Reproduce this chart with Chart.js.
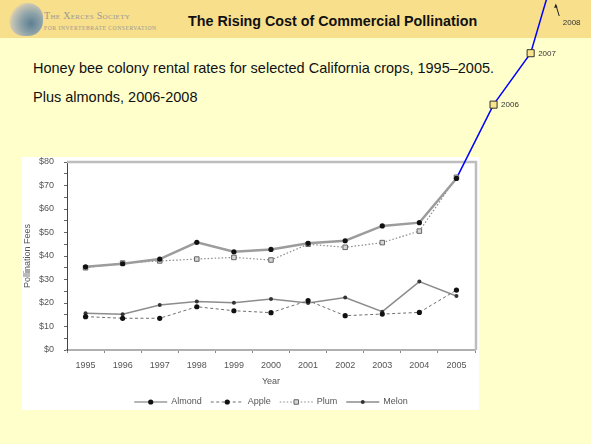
<!DOCTYPE html>
<html>
<head>
<meta charset="utf-8">
<script src="https://cdn.jsdelivr.net/npm/chart.js@4.4.1/dist/chart.umd.min.js"></script>
<style>
body{margin:0;background:#FFFFCC}
#page{position:relative;width:591px;height:444px;overflow:hidden;background:#FFFFCC;font-family:"Liberation Sans",Arial,sans-serif}
#band{position:absolute;left:0;top:0;width:591px;height:38px;background:#F7DF8C}
#logo{position:absolute;left:9px;top:3px;width:34px;height:33px;border-radius:45%;
  background:radial-gradient(circle at 65% 62%,#5d7f93 0,#8ea3a8 35%,#c9c6b4 65%,rgba(247,223,140,0) 75%)}
#soc{position:absolute;left:44px;top:10px;font-family:"Liberation Serif",serif;font-variant:small-caps;font-size:10px;color:#9a9a92;letter-spacing:.3px;white-space:nowrap}
#soc2{position:absolute;left:44px;top:25px;font-family:"Liberation Serif",serif;font-size:5.6px;color:#9a9a92;letter-spacing:.55px;white-space:nowrap}
#title{position:absolute;left:188px;top:13px;font-weight:bold;font-size:14.3px;color:#111;white-space:nowrap}
.sub{position:absolute;left:33px;font-size:14.5px;color:#111;white-space:nowrap}
#box{position:absolute;left:22px;top:157px;width:457px;height:253px;background:#fff}
#wrap{position:absolute;left:0;top:0;width:591px;height:444px}
</style>
</head>
<body>
<div id="page">
  <div id="band"></div>
  <div id="logo"></div>
  <div id="soc">The Xerces Society</div>
  <div id="soc2">FOR INVERTEBRATE CONSERVATION</div>
  <div id="title">The Rising Cost of Commercial Pollination</div>
  <div class="sub" style="top:60px">Honey bee colony rental rates for selected California crops, 1995–2005.</div>
  <div class="sub" style="top:89px">Plus almonds, 2006-2008</div>
  <div id="box"></div>
  <div id="wrap"><canvas id="c"></canvas></div>
</div>
<script>
// values
const years=[1995,1996,1997,1998,1999,2000,2001,2002,2003,2004,2005];
const almond=[35.4,36.7,38.7,45.8,41.8,42.8,45.4,46.5,52.8,54.2,73.0];
const apple=[14.2,13.5,13.5,18.4,16.7,15.9,21.0,14.6,15.3,16.0,25.5];
const plum=[35.0,37.0,37.9,38.7,39.4,38.3,45.0,43.7,45.7,50.6,73.5];
const melon=[15.6,15.2,19.1,20.6,20.1,21.7,20.0,22.3,16.3,29.1,23.0];
// almonds added later on the slide (off the chart's scale)
const extYears=[2005,2006,2007,2008];
const extAlmond=[73.0,104.4,126.3,180];
const yTicks=[0,10,20,30,40,50,60,70,80];

const xy=(xs,ys)=>xs.map((x,i)=>({x,y:ys[i]}));
const xTickVals=[];years.forEach(y=>{xTickVals.push(y-0.5,y)});xTickVals.push(years[years.length-1]+0.5);
const yTickVals=[];yTicks.forEach((v,i)=>{yTickVals.push(v);if(i<yTicks.length-1)yTickVals.push(v+5)});
const everywhere={left:-1e4,right:1e4,top:-1e4,bottom:1e4};

const decor={
  id:"decor",
  beforeDatasetsDraw(chart){
    const{ctx,chartArea:a}=chart;
    ctx.save();ctx.strokeStyle="#bdbdbd";ctx.lineWidth=2.5;
    ctx.beginPath();ctx.moveTo(a.left,a.top);ctx.lineTo(a.right+1,a.top);ctx.lineTo(a.right+1,a.bottom);ctx.stroke();
    ctx.restore();
  },
  afterDatasetsDraw(chart){
    // the added almond points lie outside the plot area, chart.js skips them there
    const m=chart.getDatasetMeta(4);
    m.data.forEach(p=>p.draw(chart.ctx,everywhere));
  },
  afterDraw(chart){
    const{ctx,chartArea:a,scales:{x}}=chart;
    ctx.save();
    // legend
    ctx.font="9px 'Liberation Sans', Arial";ctx.textBaseline="middle";
    const ds=chart.data.datasets.slice(0,4);
    const sw=33,g1=4,g2=9,ly=402;
    let tot=0;ds.forEach((d,i)=>{tot+=sw+g1+ctx.measureText(d.label).width+(i<3?g2:0)});
    let lx=(a.left+a.right)/2-tot/2;
    ds.forEach(d=>{
      ctx.save();ctx.strokeStyle=d.borderColor;ctx.lineWidth=Math.min(d.borderWidth,1.5);ctx.setLineDash(d.borderDash||[]);
      ctx.beginPath();ctx.moveTo(lx,ly);ctx.lineTo(lx+sw,ly);ctx.stroke();ctx.restore();
      ctx.fillStyle=d.pointBackgroundColor;ctx.strokeStyle=d.pointBorderColor;ctx.lineWidth=d.pointBorderWidth||0;
      Chart.helpers.drawPoint(ctx,{pointStyle:d.pointStyle,radius:d.pointRadius,rotation:0,borderWidth:d.pointBorderWidth||0},lx+sw/2,ly);
      lx+=sw+g1;ctx.fillStyle="#555";ctx.fillText(d.label,lx,ly);
      lx+=ctx.measureText(d.label).width+g2;
    });
    // year labels on the added almond points
    const m=chart.getDatasetMeta(4);
    ctx.font="8px 'Liberation Sans', Arial";ctx.fillStyle="#333";
    [1,2].forEach(i=>{const p=m.data[i];ctx.fillText(String(extYears[i]),p.x+7.5,p.y+0.5)});
    const x8=x.getPixelForValue(extYears[3]);
    ctx.fillText(String(extYears[3]),x8-5,22.5);
    ctx.strokeStyle="#222";ctx.fillStyle="#222";ctx.lineWidth=1;
    ctx.beginPath();ctx.moveTo(x8-8.5,16);ctx.lineTo(x8-11.5,6);ctx.stroke();
    ctx.beginPath();ctx.moveTo(x8-12,3.5);ctx.lineTo(x8-13.6,8);ctx.lineTo(x8-10.2,7.2);ctx.closePath();ctx.fill();
    ctx.restore();
  }
};

Chart.defaults.font.family="'Liberation Sans', Arial";
Chart.defaults.font.size=9;
Chart.defaults.color="#555";

new Chart(document.getElementById("c"),{
  type:"line",
  data:{datasets:[
    {label:"Almond",data:xy(years,almond),borderColor:"#9c9c9c",borderWidth:2.5,pointStyle:"circle",pointRadius:2.6,pointBackgroundColor:"#111",pointBorderColor:"#111",pointBorderWidth:0},
    {label:"Apple",data:xy(years,apple),borderColor:"#6e6e6e",borderWidth:1,borderDash:[3,2.5],pointStyle:"circle",pointRadius:2.6,pointBackgroundColor:"#111",pointBorderColor:"#111",pointBorderWidth:0},
    {label:"Plum",data:xy(years,plum),borderColor:"#8a8a8a",borderWidth:1.2,borderDash:[1.5,2],pointStyle:"rect",pointRadius:3.2,pointBackgroundColor:"#d6d6d6",pointBorderColor:"#666",pointBorderWidth:1},
    {label:"Melon",data:xy(years,melon),borderColor:"#8c8c8c",borderWidth:1.5,pointStyle:"circle",pointRadius:2,pointBackgroundColor:"#333",pointBorderColor:"#333",pointBorderWidth:0},
    {label:"Almond 2006-2008",data:xy(extYears,extAlmond),borderColor:"#0000FF",borderWidth:1.5,clip:false,pointStyle:"rect",pointRadius:[0,5,5,0],pointBackgroundColor:"#FAE48C",pointBorderColor:"#333",pointBorderWidth:1}
  ]},
  options:{
    responsive:true,maintainAspectRatio:false,animation:false,
    layout:{padding:{left:20,right:116,top:162,bottom:54}},
    elements:{line:{tension:0}},
    plugins:{legend:{display:false},tooltip:{enabled:false}},
    scales:{
      x:{type:"linear",bounds:"data",
        afterDataLimits(s){s.min=years[0]-0.5;s.max=years[years.length-1]+0.5},
        afterBuildTicks(s){s.ticks=xTickVals.map(v=>({value:v}))},
        afterFit(s){s.height=40},
        ticks:{autoSkip:false,maxRotation:0,padding:7,callback:v=>Number.isInteger(v)?String(v):""},
        grid:{drawOnChartArea:false,tickLength:3,tickColor:c=>c.tick&&Number.isInteger(c.tick.value)?"rgba(0,0,0,0)":"#888"},
        border:{color:"#b0b0b0",width:2},
        title:{display:true,text:"Year",font:{size:9},padding:{top:0,bottom:3}}
      },
      y:{min:0,max:80,
        afterBuildTicks(s){s.ticks=yTickVals.map(v=>({value:v}))},
        afterFit(s){s.width=47},
        ticks:{autoSkip:false,padding:10,callback:v=>v%10===0?"$"+v:""},
        grid:{drawOnChartArea:false,tickLength:3,tickColor:"#666"},
        border:{color:"#444",width:1},
        title:{display:true,text:"Pollination Fees",font:{size:9},padding:{top:2,bottom:0}}
      }
    }
  },
  plugins:[decor]
});
</script>
</body>
</html>
